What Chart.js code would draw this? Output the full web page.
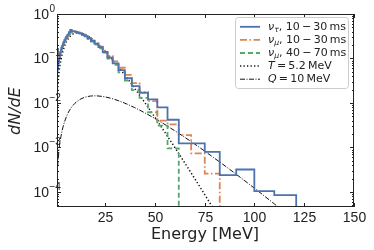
<!DOCTYPE html>
<html>
<head>
<meta charset="utf-8">
<script src="https://cdn.jsdelivr.net/npm/chart.js@4"></script>
<style>
  body { margin: 0; background: #fff; }
  canvas { display: block; }
</style>
</head>
<body>
<canvas id="myChart" width="374" height="250"></canvas>
<script>
// bin edges of the histograms (MeV)
const edges = [1.03, 1.13, 1.25, 1.37, 1.51, 1.66, 1.83, 2.01, 2.21, 2.43, 2.67, 2.94, 3.24, 3.56,
  3.92, 4.31, 4.74, 5.21, 5.73, 6.30, 6.93, 7.63, 8.39, 9.23, 10.15, 11.17, 12.28, 13.51, 14.86,
  16.35, 17.99, 19.78, 21.76, 23.94, 26.33, 28.97, 31.86, 35.05, 38.55, 42.41, 46.65, 51.32,
  56.45, 62.09, 68.30, 75.13, 82.64, 90.91, 100, 110, 121];

const tauEarly = [0.046, 0.050, 0.055, 0.062, 0.069, 0.078, 0.088, 0.099, 0.111, 0.124, 0.138,
  0.155, 0.172, 0.19, 0.21, 0.233, 0.258, 0.285, 0.315, 0.345, 0.39, 0.44, 0.41, 0.405, 0.395,
  0.38, 0.365, 0.345, 0.315, 0.285, 0.25, 0.215, 0.18, 0.14, 0.105, 0.078, 0.055, 0.036, 0.024,
  0.017, 0.012, 0.0080, 0.0042, 0.00124, 0.00124, 0.00080, 0.00024, 0.00032, 0.000105, 0.000085];

const muEarly = [0.044, 0.049, 0.054, 0.060, 0.067, 0.076, 0.086, 0.097, 0.108, 0.121, 0.135,
  0.151, 0.168, 0.186, 0.205, 0.226, 0.25, 0.275, 0.30, 0.33, 0.36, 0.385, 0.40, 0.405, 0.40,
  0.385, 0.37, 0.35, 0.32, 0.29, 0.255, 0.22, 0.185, 0.15, 0.115, 0.086, 0.062, 0.043, 0.028,
  0.0175, 0.011, 0.0040, 0.0033, 0.0019, 0.00074, 0.00026];

const muLate = [0.050, 0.055, 0.060, 0.066, 0.073, 0.082, 0.092, 0.103, 0.115, 0.128, 0.142,
  0.158, 0.175, 0.193, 0.212, 0.233, 0.255, 0.28, 0.305, 0.335, 0.36, 0.385, 0.395, 0.395, 0.39,
  0.375, 0.355, 0.335, 0.305, 0.275, 0.24, 0.205, 0.17, 0.135, 0.10, 0.072, 0.049, 0.032, 0.0195,
  0.013, 0.0062, 0.0031, 0.00096];

// thermal curve T = 5.2 MeV
const thermE = [1, 2, 3, 4, 5, 6, 8, 10, 12, 14, 16, 20, 25, 30, 35, 40, 45, 50, 55, 60, 65, 70, 75, 80];
const thermVals = [0.0132, 0.0472, 0.0942, 0.147, 0.201, 0.251, 0.329, 0.371, 0.379, 0.362, 0.328,
  0.2435, 0.147, 0.0816, 0.0425, 0.0212, 0.0103, 0.00485, 0.00224, 0.00102, 0.000457, 0.000203,
  0.000089, 0.0000387];

// Q = 10 MeV curve
const qE = [1, 2, 3, 4, 6, 8, 10, 13, 16, 20, 25, 30, 35, 40, 45, 50, 60, 70, 80, 90, 100, 110, 115];
const qVals = [0.000242, 0.000877, 0.00179, 0.00287, 0.00529, 0.0077, 0.00986, 0.01234, 0.01385,
  0.0145, 0.01374, 0.0120, 0.00991, 0.00785, 0.00603, 0.00451, 0.00239, 0.0012, 0.000575,
  0.000268, 0.000122, 0.0000541, 0.0000359];

const xTicks = [25, 50, 75, 100, 125, 150];
const yExps = [0, -1, -2, -3, -4];

const legendLabels = [
  [{ t: "ν", it: true }, { t: "τ", it: true, sub: true }, { t: ", 10\u2009−\u200930\u2009ms" }],
  [{ t: "ν", it: true }, { t: "μ", it: true, sub: true }, { t: ", 10\u2009−\u200930\u2009ms" }],
  [{ t: "ν", it: true }, { t: "μ", it: true, sub: true }, { t: ", 40\u2009−\u200970\u2009ms" }],
  [{ t: "T", it: true }, { t: "\u2009=\u20095.2\u2009MeV" }],
  [{ t: "Q", it: true }, { t: "\u2009=\u200910\u2009MeV" }],
];

function histPoints(vals) {
  const pts = [{ x: edges[0], y: 1e-7 }];
  vals.forEach((v, i) => pts.push({ x: edges[i], y: v }));
  pts.push({ x: edges[vals.length], y: 1e-7 });
  return pts;
}

function curvePoints(xs, ys) {
  return xs.map((x, i) => ({ x: x, y: ys[i] }));
}

const supDigits = { "0": "0", "-1": "−1", "-2": "−2", "-3": "−3", "-4": "−4" };

function drawRich(ctx, x, y, parts, size) {
  parts.forEach((p) => {
    const fs = p.sub ? size * 0.7 : size;
    ctx.font = (p.it ? "italic " : "") + fs + 'px "DejaVu Sans"';
    ctx.fillText(p.t, x, y + (p.sub ? size * 0.28 : 0));
    x += ctx.measureText(p.t).width;
  });
}

const framePlugin = {
  id: "frame",
  afterDraw(chart) {
    const ctx = chart.ctx;
    const a = chart.chartArea;
    const xs = chart.scales.x;
    const ys = chart.scales.y;
    ctx.save();
    ctx.strokeStyle = "#222";
    ctx.lineWidth = 1;
    ctx.setLineDash([]);
    ctx.strokeRect(a.left + 0.5, a.top + 0.5, a.right - a.left - 1, a.bottom - a.top - 1);

    // x ticks
    ctx.fillStyle = "#222";
    ctx.font = '14px "Liberation Sans"';
    ctx.textAlign = "center";
    ctx.textBaseline = "middle";
    xTicks.forEach((v) => {
      const px = Math.round(xs.getPixelForValue(v)) + 0.5;
      ctx.beginPath();
      ctx.moveTo(px, a.bottom); ctx.lineTo(px, a.bottom - 4);
      ctx.moveTo(px, a.top); ctx.lineTo(px, a.top + 4);
      ctx.stroke();
      ctx.fillText(String(v), px, a.bottom + 11);
    });

    // y ticks, major and minor
    yExps.forEach((e) => {
      const py = Math.round(ys.getPixelForValue(Math.pow(10, e))) + 0.5;
      ctx.beginPath();
      ctx.moveTo(a.left, py); ctx.lineTo(a.left + 4, py);
      ctx.moveTo(a.right, py); ctx.lineTo(a.right - 4, py);
      ctx.stroke();
      ctx.font = '14px "Liberation Sans"';
      ctx.textAlign = "right";
      ctx.textBaseline = "middle";
      ctx.fillText("10", 49, py + 1);
      ctx.font = '10px "Liberation Sans"';
      ctx.textAlign = "left";
      ctx.fillText(supDigits[String(e)], 49.5, py - 5);
    });
    for (let e = -5; e < 0; e++) {
      for (let k = 2; k <= 9; k++) {
        const v = k * Math.pow(10, e);
        if (v < ys.min || v > ys.max) continue;
        const py = Math.round(ys.getPixelForValue(v)) + 0.5;
        ctx.beginPath();
        ctx.moveTo(a.left, py); ctx.lineTo(a.left + 2, py);
        ctx.moveTo(a.right, py); ctx.lineTo(a.right - 2, py);
        ctx.stroke();
      }
    }

    // axis titles
    ctx.textAlign = "center";
    ctx.textBaseline = "middle";
    ctx.font = '16px "DejaVu Sans"';
    ctx.fillText("Energy [MeV]", 205, 235);
    ctx.save();
    ctx.translate(16, 111);
    ctx.rotate(-Math.PI / 2);
    ctx.font = 'italic 16px "DejaVu Sans"';
    ctx.fillText("dN/dE", 0, 0);
    ctx.restore();

    // legend
    ctx.beginPath();
    ctx.roundRect(235.5, 17.5, 113, 71, 3);
    ctx.fillStyle = "rgba(255,255,255,0.85)";
    ctx.fill();
    ctx.strokeStyle = "#ccc";
    ctx.stroke();
    chart.data.datasets.forEach((ds, i) => {
      const y = 26.8 + i * 13.1;
      ctx.strokeStyle = ds.borderColor;
      ctx.lineWidth = ds.borderWidth;
      ctx.setLineDash(ds.borderDash || []);
      ctx.beginPath();
      ctx.moveTo(240, y); ctx.lineTo(260, y);
      ctx.stroke();
      ctx.setLineDash([]);
      ctx.fillStyle = "#222";
      ctx.textAlign = "left";
      ctx.textBaseline = "middle";
      drawRich(ctx, 268, y, legendLabels[i], 11);
    });
    ctx.restore();
  },
};

new Chart("myChart", {
  type: "line",
  data: {
    datasets: [
      { data: histPoints(tauEarly), stepped: "before", borderColor: "#4c72b0", borderWidth: 1.8 },
      { data: histPoints(muEarly), stepped: "before", borderColor: "#dd8452", borderWidth: 1.8,
        borderDash: [7, 2.5, 1.5, 2.5] },
      { data: histPoints(muLate), stepped: "before", borderColor: "#55a868", borderWidth: 1.8,
        borderDash: [5, 3] },
      { data: curvePoints(thermE, thermVals), borderColor: "#111", borderWidth: 1.5,
        borderDash: [1.3, 2.2], cubicInterpolationMode: "monotone" },
      { data: curvePoints(qE, qVals), borderColor: "#111", borderWidth: 1,
        borderDash: [5, 1.5, 1, 1.5], cubicInterpolationMode: "monotone" },
    ],
  },
  options: {
    responsive: false,
    animation: false,
    devicePixelRatio: 1,
    layout: { padding: { left: 57, right: 20, top: 14, bottom: 43 } },
    elements: { point: { radius: 0 } },
    plugins: { legend: { display: false }, tooltip: { enabled: false } },
    scales: {
      x: { type: "linear", min: 1, max: 150, display: false },
      y: { type: "logarithmic", min: 4.6e-5, max: 1, display: false },
    },
  },
  plugins: [framePlugin],
});
</script>
</body>
</html>
